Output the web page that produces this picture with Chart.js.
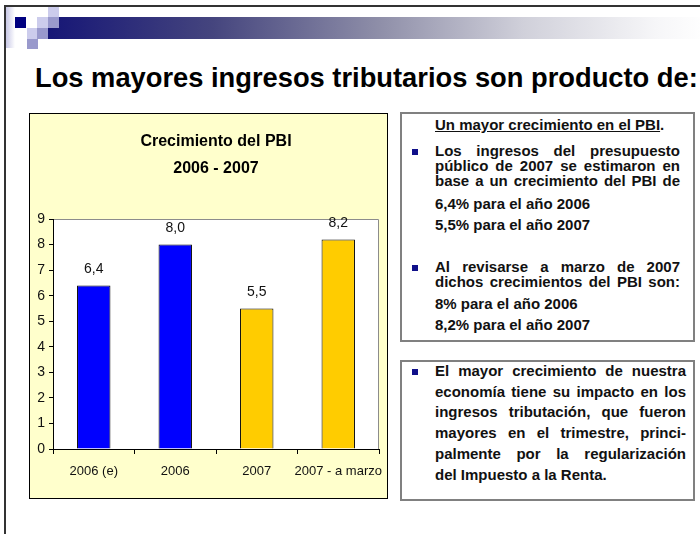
<!DOCTYPE html>
<html>
<head>
<meta charset="utf-8">
<script src="https://cdn.jsdelivr.net/npm/chart.js@4"></script>
<style>
  body { margin: 0; width: 700px; height: 534px; overflow: hidden; background: #fff; position: relative; font-family: 'Liberation Sans', Arial, sans-serif; }
  .abs { position: absolute; }
  .frame { left: 4px; top: 5px; width: 800px; height: 600px; border-left: 2px solid #333; border-top: 2px solid #333; }
  .sq { position: absolute; width: 11px; height: 11px; }
  .light { background: #ccccec; }
  .mid { background: #9999cc; }
  .navy { background: #000080; }
  .title { left: 35px; top: 62px; font-size: 27.3px; font-weight: bold; line-height: 32px; white-space: nowrap; color: #000; }
  .chartbox { left: 29px; top: 113px; width: 357px; height: 384px; border: 1px solid #000; background: #ffffcc; }
  .textbox { box-sizing: border-box; border: 2px solid #808080; background: #fff; }
  .ln { position: absolute; left: 435px; font-size: 15px; font-weight: bold; line-height: 16px; height: 16px; white-space: nowrap; color: #111; }
  .j { text-align: justify; text-align-last: justify; white-space: normal; }
  .bul { position: absolute; left: 412px; width: 6px; height: 6px; background: #10108a; }
</style>
</head>
<body>
<div class="abs frame"></div>
<!-- header decoration -->
<div class="abs" style="left:6px;top:7px;width:9px;height:41px;background:linear-gradient(to right,#c8c8e6,#fff);"></div>
<div class="abs" style="left:48px;top:17px;width:660px;height:22px;background:linear-gradient(to right,#161676,#45457e 25%,#8e8ea8 50%,#d0d0da 72%,#f6f6f8 92%,#fff);"></div>
<div class="sq light" style="left:48px;top:7px;"></div>
<div class="sq navy" style="left:15px;top:17px;"></div>
<div class="sq light" style="left:37px;top:17px;"></div>
<div class="sq mid" style="left:48px;top:17px;"></div>
<div class="sq light" style="left:27px;top:28px;"></div>
<div class="sq mid" style="left:37px;top:28px;"></div>
<div class="sq mid" style="left:27px;top:39px;height:10px;"></div>

<div class="abs title">Los mayores ingresos tributarios son producto de:</div>

<div class="abs chartbox"><canvas id="pbiChart" width="357" height="384"></canvas></div>

<div class="abs textbox" style="left:400px;top:112px;width:295px;height:230px;"></div>
<div class="ln" style="top:117px;"><u>Un mayor crecimiento en el PBI</u>.</div>
<div class="bul" style="top:149px;"></div>
<div class="ln j" style="top:143px;width:245px;">Los ingresos del presupuesto</div>
<div class="ln j" style="top:158px;width:245px;">público de 2007 se estimaron en</div>
<div class="ln j" style="top:173px;width:245px;">base a un crecimiento del PBI de</div>
<div class="ln" style="top:196px;">6,4% para el año 2006</div>
<div class="ln" style="top:217px;">5,5% para el año 2007</div>
<div class="bul" style="top:265px;"></div>
<div class="ln j" style="top:259px;width:245px;">Al revisarse a marzo de 2007</div>
<div class="ln j" style="top:274px;width:245px;">dichos crecimientos del PBI son:</div>
<div class="ln" style="top:296px;">8% para el año 2006</div>
<div class="ln" style="top:317px;">8,2% para el año 2007</div>

<div class="abs textbox" style="left:400px;top:360px;width:295px;height:141px;"></div>
<div class="bul" style="top:369px;"></div>
<div class="ln j" style="top:363px;width:251px;">El mayor crecimiento de nuestra</div>
<div class="ln j" style="top:384px;width:251px;">economía tiene su impacto en los</div>
<div class="ln j" style="top:404px;width:251px;">ingresos tributación, que fueron</div>
<div class="ln j" style="top:425px;width:251px;">mayores en el trimestre, princi-</div>
<div class="ln j" style="top:446px;width:251px;">palmente por la regularización</div>
<div class="ln" style="top:467px;">del Impuesto a la Renta.</div>

<script>
// chart data
const categories = ['2006 (e)', '2006', '2007', '2007 - a marzo'];
const pbiGrowth = [6.4, 8.0, 5.5, 8.2];
const barColors = ['#0000ff', '#0000ff', '#ffcc00', '#ffcc00'];
const chartTitle = ['Crecimiento del PBI', '2006 - 2007'];
const yMax = 9;

const chartFont = "'Liberation Sans', Arial, sans-serif";

// white plot area with gray frame, like the excel chart
const plotArea = {
    id: 'plotArea',
    beforeDraw(chart) {
        const a = chart.chartArea;
        const ctx = chart.ctx;
        ctx.save();
        ctx.fillStyle = '#fff';
        ctx.fillRect(a.left, a.top, a.right - a.left, a.bottom - a.top);
        ctx.strokeStyle = '#8c8c8c';
        ctx.lineWidth = 1;
        ctx.beginPath();
        ctx.moveTo(a.left, a.top + 0.5);
        ctx.lineTo(a.right - 0.5, a.top + 0.5);
        ctx.lineTo(a.right - 0.5, a.bottom);
        ctx.stroke();
        ctx.restore();
    }
};

// values written over each bar
const valueLabels = {
    id: 'valueLabels',
    afterDatasetsDraw(chart) {
        const ctx = chart.ctx;
        const meta = chart.getDatasetMeta(0);
        ctx.save();
        ctx.font = '14px ' + chartFont;
        ctx.fillStyle = '#111';
        ctx.textAlign = 'center';
        ctx.textBaseline = 'middle';
        meta.data.forEach((bar, i) => {
            const txt = pbiGrowth[i].toFixed(1).replace('.', ',');
            ctx.fillText(txt, bar.x, bar.y - 16);
        });
        ctx.restore();
    }
};

const ctx = document.getElementById('pbiChart');
new Chart(ctx, {
    type: 'bar',
    data: {
        labels: categories,
        datasets: [{
            data: pbiGrowth,
            backgroundColor: barColors,
            borderColor: '#000',
            borderWidth: 1,
            categoryPercentage: 1,
            barPercentage: 0.41
        }]
    },
    options: {
        responsive: false,
        animation: false,
        devicePixelRatio: 1,
        layout: { padding: { left: 0, right: 8, top: 0, bottom: 0 } },
        plugins: {
            legend: { display: false },
            tooltip: { enabled: false },
            title: {
                display: true,
                text: chartTitle,
                fullSize: false,
                color: '#000',
                font: { family: chartFont, size: 16, weight: 'bold', lineHeight: '27px' },
                padding: { top: 14, bottom: 37 }
            }
        },
        scales: {
            x: {
                grid: { display: true, drawOnChartArea: false, drawTicks: true, tickLength: 5, color: '#000', offset: true },
                border: { display: true, color: '#000', width: 1 },
                ticks: { color: '#111', font: { family: chartFont, size: 13 }, padding: 10, maxRotation: 0, autoSkip: false },
                afterFit(s) { s.height = 49; s.paddingLeft = 0; s.paddingRight = 0; }
            },
            y: {
                min: 0,
                max: yMax,
                grid: { display: true, drawOnChartArea: false, drawTicks: true, tickLength: 4, color: '#000' },
                border: { display: true, color: '#000', width: 1 },
                ticks: { stepSize: 1, color: '#111', font: { family: chartFont, size: 14 }, padding: 4 },
                afterFit(s) { s.width = 23; }
            }
        }
    },
    plugins: [plotArea, valueLabels]
});
</script>
</body>
</html>
